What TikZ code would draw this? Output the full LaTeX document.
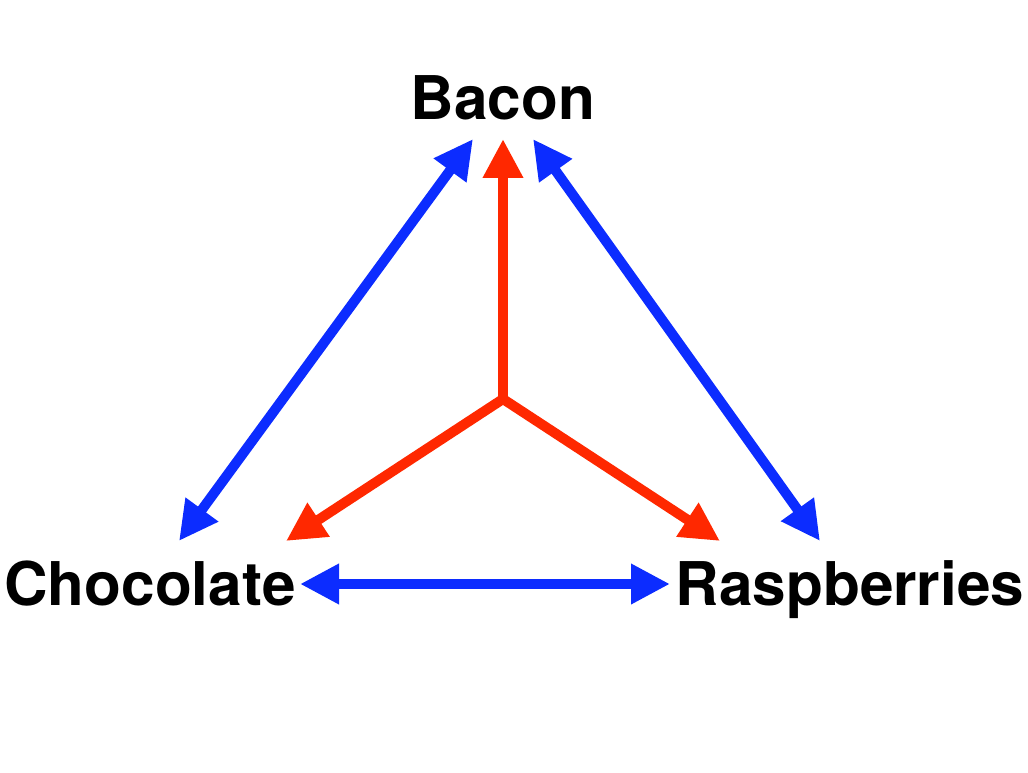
\documentclass[tikz,border=0pt]{standalone}
\usepackage{fontspec}
\setmainfont{TeX Gyre Heros}
\usetikzlibrary{positioning,arrows.meta}
\definecolor{linkblue}{RGB}{12,44,255}
\definecolor{hubred}{RGB}{255,40,0}
\begin{document}
\begin{tikzpicture}[
  food/.style={
    font=\fontsize{34.3}{40}\selectfont\bfseries,
    inner sep=0pt,
    anchor=base
  },
  pair/.style={
    draw=linkblue,
    line width=2mm,
    {Triangle[length=7.8mm,width=7.6mm]}-{Triangle[length=7.8mm,width=7.6mm]}
  },
  spoke/.style={
    draw=hubred,
    line width=2mm,
    line join=miter,
    -{Triangle[length=7.8mm,width=7.6mm]}
  }
  ]
\useasboundingbox (0,0) rectangle (20.56,15.44);
% Foods
\node [food] (bacon) at (10.06,13.04) {Bacon};
\node [food] (chocolate) at (3.0,3.34) {Chocolate};
\node [food] (raspberries) at (17.0,3.34) {Raspberries};
% Arrow ends
\coordinate (hub) at (10.06,7.46);
\coordinate (bacon red) at (10.06,12.66);
\coordinate (bacon left) at (9.46,12.66);
\coordinate (bacon right) at (10.66,12.66);
\coordinate (chocolate red) at (5.72,4.62);
\coordinate (chocolate up) at (3.58,4.62);
\coordinate (chocolate side) at (6.0,3.76);
\coordinate (raspberries red) at (14.4,4.62);
\coordinate (raspberries up) at (16.4,4.62);
\coordinate (raspberries side) at (13.4,3.76);
% Blue links
\path [pair] (chocolate up) -- (bacon left);
\path [pair] (raspberries up) -- (bacon right);
\path [pair] (chocolate side) -- (raspberries side);
% Red spokes
\path [spoke] (hub) -- (bacon red);
\path [spoke] (hub) -- (chocolate red);
\path [spoke] (hub) -- (raspberries red);
\end{tikzpicture}
\end{document}
